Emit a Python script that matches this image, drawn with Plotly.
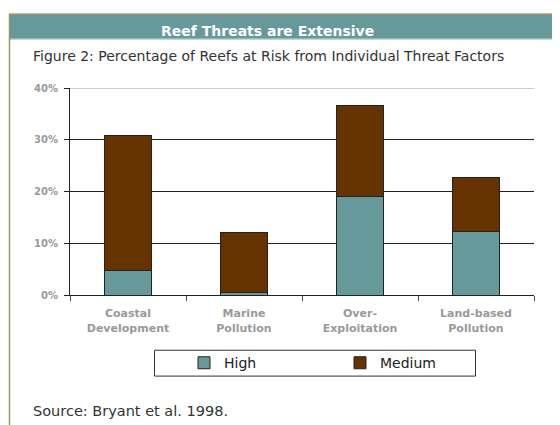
import plotly.graph_objects as go

categories = ["Coastal<br>Development", "Marine<br>Pollution", "Over-<br>Exploitation", "Land-based<br>Pollution"]
high = [4.8, 0.5, 19.1, 12.2]
medium = [26.1, 11.6, 17.6, 10.5]
y_ticks = [0, 10, 20, 30, 40]
y_tick_labels = ["0%", "10%", "20%", "30%", "40%"]

TEAL = "#669999"
BROWN = "#663300"
FRAME = "#999966"

OFF = 8  # page body margin
W, H = 560 - OFF, 425 - OFF
L = 70 - OFF
T = 87.5 - OFF
R = W - (534 - OFF)
B = H - (295.5 - OFF)

fig = go.Figure()
fig.add_trace(go.Bar(x=categories, y=high, name="High", marker=dict(color=TEAL, line=dict(color="#222222", width=1))))
fig.add_trace(go.Bar(x=categories, y=medium, name="Medium", marker=dict(color=BROWN, line=dict(color="#222222", width=1))))

pw = W - L - R
ph = H - T - B


def px(xref_pix):
    return (xref_pix - OFF - L) / pw


def py(yref_pix):
    return (H - B - (yref_pix - OFF)) / ph


fig.update_layout(
    width=W, height=H,
    margin=dict(l=L, r=R, t=T, b=B, pad=0),
    paper_bgcolor="white", plot_bgcolor="white",
    barmode="stack", bargap=0.595,
    font=dict(family="DejaVu Sans", size=12, color="#333333"),
    showlegend=True,
    legend=dict(
        orientation="h", x=px(184), y=py(364), xanchor="left", yanchor="middle",
        borderwidth=0, bgcolor="rgba(0,0,0,0)",
        entrywidth=111, entrywidthmode="pixels", itemwidth=30,
        font=dict(family="DejaVu Sans", size=14, color="#222222"),
        traceorder="normal",
    ),
    xaxis=dict(
        showline=True, linecolor="#222222", linewidth=1,
        ticks="outside", tickson="boundaries", ticklen=5, tickcolor="#444444",
        ticklabelstandoff=8,
        tickfont=dict(family="DejaVu Sans", size=11, color="#999999", weight="bold"),
        showgrid=False, fixedrange=True,
    ),
    yaxis=dict(
        range=[0, 40], tickvals=y_ticks, ticktext=y_tick_labels,
        showline=True, linecolor="#222222", linewidth=1,
        ticks="outside", ticklen=5, tickcolor="#222222",
        ticklabelstandoff=4,
        tickfont=dict(family="DejaVu Sans", size=10, color="#999999", weight="bold"),
        showgrid=True, gridcolor="#222222", gridwidth=1,
        zeroline=False, fixedrange=True,
    ),
    shapes=[
        dict(type="rect", xref="paper", yref="paper", x0=px(9), x1=px(570), y0=py(38), y1=py(13),
             fillcolor=TEAL, line=dict(width=0), layer="below"),
        dict(type="line", xref="paper", yref="paper", x0=px(9), x1=px(570), y0=py(13.5), y1=py(13.5),
             line=dict(color=FRAME, width=1.5)),
        dict(type="line", xref="paper", yref="paper", x0=px(9), x1=px(570), y0=py(38.5), y1=py(38.5),
             line=dict(color="#a8cccc", width=1)),
        dict(type="line", xref="paper", yref="paper", x0=px(9.5), x1=px(9.5), y0=py(13), y1=py(440),
             line=dict(color=FRAME, width=1.5)),
        dict(type="line", xref="x domain", yref="y", x0=0, x1=1, y0=40, y1=40,
             line=dict(color="#999999", width=1)),
        dict(type="rect", xref="paper", yref="paper", x0=px(154.5), x1=px(475.5), y0=py(377), y1=py(351),
             line=dict(color="#333333", width=1), fillcolor="rgba(0,0,0,0)"),
    ],
    annotations=[
        dict(text="<b>Reef Threats are Extensive</b>", xref="paper", yref="paper", x=px(267.5), y=py(30.5),
             xanchor="center", yanchor="middle", showarrow=False,
             font=dict(family="DejaVu Sans", size=14, color="white")),
        dict(text="Figure 2: Percentage of Reefs at Risk from Individual Threat Factors", xref="paper", yref="paper",
             x=px(31), y=py(55.5), xanchor="left", yanchor="middle", showarrow=False,
             font=dict(family="DejaVu Sans", size=14, color="#333333")),
        dict(text="Source: Bryant et al. 1998.", xref="paper", yref="paper",
             x=px(31), y=py(412), xanchor="left", yanchor="middle", showarrow=False,
             font=dict(family="DejaVu Sans", size=14.5, color="#333333")),
    ],
)

fig.write_html("out.html")
